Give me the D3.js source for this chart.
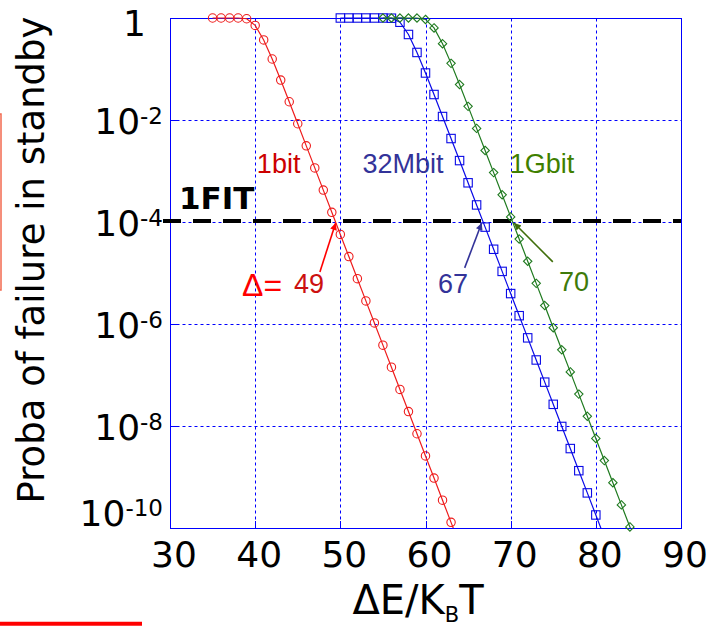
<!DOCTYPE html>
<html>
<head>
<meta charset="utf-8">
<script src="https://cdn.jsdelivr.net/npm/d3@7"></script>
<style>
  body { margin: 0; background: #fff; }
  svg { display: block; }
</style>
</head>
<body>
<div id="chart"></div>
<script>
// barrier height dE/kT for each curve
const delta1bit = [35,36,37,38,39,40,41,42,43,44,45,46,47,48,49,50,51,52,53,54,55,56,57,58,59,60,61,62,63,64];
const proba1bit = [1,1,1,1,0.967,0.716,0.371,0.157,6.07e-2,2.28e-2,8.44e-3,3.11e-3,1.15e-3,4.22e-4,1.55e-4,
  5.71e-5,2.10e-5,7.73e-6,2.84e-6,1.05e-6,3.85e-7,1.42e-7,5.21e-8,1.92e-8,7.05e-9,2.59e-9,9.54e-10,3.51e-10,1.29e-10,4.75e-11];

const delta32M = [50,51,52,53,54,55,56,57,58,59,60,61,62,63,64,65,66,67,68,69,70,71,72,73,74,75,76,77,78,79,80,81];
const proba32M = [1,1,1,1,1,1,0.991,0.826,0.475,0.211,8.35e-2,3.16e-2,1.17e-2,4.33e-3,1.60e-3,5.87e-4,2.16e-4,
  7.94e-5,2.92e-5,1.075e-5,3.95e-6,1.455e-6,5.35e-7,1.97e-7,7.24e-8,2.66e-8,9.80e-9,3.61e-9,1.33e-9,4.88e-10,1.80e-10,6.6e-11];

const delta1G = [55,56,57,58,59,60,61,62,63,64,65,66,67,68,69,70,71,72,73,74,75,76,77,78,79,80,81,82,83,84,85];
const proba1G = [1,1,1,1,0.9995,0.937,0.639,0.313,0.129,4.96e-2,1.85e-2,6.85e-3,2.53e-3,9.30e-4,3.42e-4,1.26e-4,
  4.63e-5,1.70e-5,6.26e-6,2.30e-6,8.47e-7,3.12e-7,1.15e-7,4.22e-8,1.55e-8,5.71e-9,2.10e-9,7.73e-10,2.84e-10,1.05e-10,3.86e-11];

const xTicks = [30,40,50,60,70,80,90];
const yTicks = [1,1e-2,1e-4,1e-6,1e-8,1e-10];
const yTickExp = ['', '-2', '-4', '-6', '-8', '-10'];

const fitLevel = 1.05e-4;
const crossings = [49.45, 66.6, 70.4];   // where each curve hits 1FIT
const crossLabels = ['49', '67', '70'];
const seriesNames = ['1bit', '32Mbit', '1Gbit'];

const width = 722, height = 628;
const marginLeft = 170, marginRight = 41, marginTop = 18, marginBottom = 100;

const x = d3.scaleLinear().domain([30, 90]).range([marginLeft, width - marginRight]);
const y = d3.scaleLog().domain([1, 1e-10]).range([marginTop, height - marginBottom]);
const snap = (v) => Math.round(v) + 0.5;

const svg = d3.select('#chart').append('svg')
  .attr('width', width)
  .attr('height', height)
  .attr('viewBox', [0, 0, width, height]);

const defs = svg.append('defs');
defs.append('clipPath').attr('id', 'plot-clip')
  .append('rect')
    .attr('x', x(30)).attr('y', 0)
    .attr('width', x(90) - x(30)).attr('height', y(1e-10));

function arrowMarker(id, color) {
  defs.append('marker')
    .attr('id', id)
    .attr('viewBox', '0 -5 10 10')
    .attr('refX', 10).attr('refY', 0)
    .attr('markerWidth', 9).attr('markerHeight', 7)
    .attr('markerUnits', 'userSpaceOnUse')
    .attr('orient', 'auto')
    .append('path')
      .attr('d', 'M0,-5L10,0L0,5Z')
      .attr('fill', color);
}
arrowMarker('arr-red', '#ff0000');
arrowMarker('arr-blue', '#333399');
arrowMarker('arr-green', '#3f6e0a');

// stray slide decorations
svg.append('rect')
  .attr('x', -10).attr('y', 114).attr('width', 11).attr('height', 176)
  .attr('fill', 'none').attr('stroke', '#f26a4f').attr('stroke-width', 1.5);
svg.append('line')
  .attr('x1', 0).attr('x2', 142).attr('y1', 623.7).attr('y2', 623.7)
  .attr('stroke', '#ff0000').attr('stroke-width', 4);

// grid
const grid = svg.append('g').attr('class', 'grid')
  .attr('stroke', '#0000ff').attr('stroke-width', 1).attr('stroke-dasharray', '3,3');
grid.selectAll('line.v')
  .data(xTicks)
  .join('line')
    .attr('class', 'v')
    .attr('x1', (d) => snap(x(d))).attr('x2', (d) => snap(x(d)))
    .attr('y1', snap(y(1))).attr('y2', snap(y(1e-10)));
grid.selectAll('line.h')
  .data(yTicks)
  .join('line')
    .attr('class', 'h')
    .attr('x1', snap(x(30))).attr('x2', snap(x(90)))
    .attr('y1', (d) => snap(y(d))).attr('y2', (d) => snap(y(d)));

// box
svg.append('rect')
  .attr('x', snap(x(30))).attr('y', snap(y(1)))
  .attr('width', snap(x(90)) - snap(x(30))).attr('height', snap(y(1e-10)) - snap(y(1)))
  .attr('fill', 'none').attr('stroke', '#0000ff').attr('stroke-width', 1);

// inward ticks
svg.append('g')
  .attr('transform', `translate(0, ${Math.round(y(1e-10))})`)
  .call(d3.axisBottom(x).tickValues(xTicks).tickSize(-7).tickFormat('').offset(0))
  .call((g) => g.select('.domain').remove())
  .call((g) => g.selectAll('.tick').attr('transform', (d) => `translate(${snap(x(d))},0)`))
  .call((g) => g.selectAll('line').attr('stroke', '#0000ff'));
svg.append('g')
  .attr('transform', `translate(${Math.round(x(30))}, 0)`)
  .call(d3.axisLeft(y).tickValues(yTicks).tickSize(-7).tickFormat('').offset(0))
  .call((g) => g.select('.domain').remove())
  .call((g) => g.selectAll('.tick').attr('transform', (d) => `translate(0,${snap(y(d))})`))
  .call((g) => g.selectAll('line').attr('stroke', '#0000ff'));

// tick labels
svg.append('g')
  .attr('font-family', 'DejaVu Sans, Verdana, sans-serif')
  .attr('font-size', 36)
  .attr('text-anchor', 'middle')
  .selectAll('text')
  .data(xTicks)
  .join('text')
    .attr('x', (d) => x(d) + 4)
    .attr('y', 567)
    .text((d) => d);

const yLabels = svg.append('g')
  .attr('font-family', 'DejaVu Sans, Verdana, sans-serif')
  .attr('text-anchor', 'end')
  .selectAll('text')
  .data(yTicks)
  .join('text')
    .attr('x', (d, i) => i == 0 ? 146 : 163)
    .attr('y', (d, i) => i == 0 ? y(d) + 18 : (i == yTicks.length - 1 ? y(d) - 2 : y(d) + 14))
    .attr('font-size', 36);
yLabels.each(function(d, i) {
  const t = d3.select(this);
  if (i == 0) { t.text('1'); return; }
  t.append('tspan').text('10');
  t.append('tspan').attr('font-size', 23).attr('dy', -10).text(yTickExp[i]);
});

// axis titles
svg.append('text')
  .attr('transform', 'translate(44, 260) rotate(-90)')
  .attr('text-anchor', 'middle')
  .attr('font-family', 'DejaVu Sans, Verdana, sans-serif')
  .attr('font-size', 37)
  .text('Proba of failure in standby');

const xTitle = svg.append('text')
  .attr('x', 418).attr('y', 614)
  .attr('text-anchor', 'middle')
  .attr('font-family', 'DejaVu Sans, Verdana, sans-serif')
  .attr('font-size', 40);
xTitle.append('tspan').text('\u0394E/K');
xTitle.append('tspan').attr('font-size', 21).attr('dy', 8).text('B');
xTitle.append('tspan').attr('dy', -8).text('T');

// 1FIT line
svg.append('line')
  .attr('x1', x(30) - 7).attr('x2', x(90))
  .attr('y1', y(fitLevel)).attr('y2', y(fitLevel))
  .attr('stroke', '#000').attr('stroke-width', 4)
  .attr('stroke-dasharray', '18,12');
svg.append('text')
  .attr('x', 179).attr('y', 209)
  .attr('font-family', 'DejaVu Sans, Verdana, sans-serif')
  .attr('font-weight', 'bold')
  .attr('font-size', 31)
  .text('1FIT');

// curves
const series = [
  {name: seriesNames[0], xs: delta1bit, ps: proba1bit, color: '#ee1c1c', shape: 'circle'},
  {name: seriesNames[1], xs: delta32M, ps: proba32M, color: '#0a0ae6', shape: 'square'},
  {name: seriesNames[2], xs: delta1G, ps: proba1G, color: '#1f7a1f', shape: 'diamond'}
];

const line = d3.line().x((d) => x(d[0])).y((d) => y(d[1]));

const curves = svg.append('g');
series.forEach((s) => {
  const pts = d3.zip(s.xs, s.ps);
  curves.append('path')
    .attr('clip-path', 'url(#plot-clip)')
    .attr('d', line(pts))
    .attr('fill', 'none')
    .attr('stroke', s.color)
    .attr('stroke-width', 1.2);

  const shown = pts.filter((d) => d[1] >= 1e-10);
  const g = curves.append('g')
    .attr('fill', 'none')
    .attr('stroke', s.color)
    .attr('stroke-width', 1.1);
  if (s.shape == 'circle') {
    g.selectAll('circle').data(shown).join('circle')
      .attr('cx', (d) => x(d[0])).attr('cy', (d) => y(d[1])).attr('r', 4.2);
  } else if (s.shape == 'square') {
    g.selectAll('rect').data(shown).join('rect')
      .attr('x', (d) => x(d[0]) - 4.2).attr('y', (d) => y(d[1]) - 4.2)
      .attr('width', 8.4).attr('height', 8.4);
  } else {
    g.selectAll('path').data(shown).join('path')
      .attr('transform', (d) => `translate(${x(d[0])},${y(d[1])})`)
      .attr('d', 'M0,-4.2L4.2,0L0,4.2L-4.2,0Z');
  }
});

// series labels
const labelFont = 'Liberation Sans, Arial, sans-serif';
const nameColors = ['#cc0000', '#333399', '#3f7f00'];
const nameX = [40.2, 52.6, 69.9];
svg.append('g')
  .attr('font-family', labelFont)
  .attr('font-size', 27)
  .selectAll('text')
  .data(seriesNames)
  .join('text')
    .attr('x', (d, i) => x(nameX[i]))
    .attr('y', 173)
    .attr('fill', (d, i) => nameColors[i])
    .text((d) => d);

// arrows to the 1FIT crossings
const arrowTails = [[47.6, 1.05e-5], [64.6, 1.26e-5], [74.95, 1.65e-5]];
const arrowIds = ['arr-red', 'arr-blue', 'arr-green'];
const arrowColors = ['#ff0000', '#333399', '#3f6e0a'];
svg.append('g')
  .selectAll('line')
  .data(crossings)
  .join('line')
    .attr('x1', (d, i) => x(arrowTails[i][0]))
    .attr('y1', (d, i) => y(arrowTails[i][1]))
    .attr('x2', (d) => x(d))
    .attr('y2', y(1e-4) + 1)
    .attr('stroke', (d, i) => arrowColors[i])
    .attr('stroke-width', 1.6)
    .attr('marker-end', (d, i) => `url(#${arrowIds[i]})`);

svg.append('text')
  .attr('x', 242).attr('y', 296)
  .attr('font-family', labelFont)
  .attr('font-size', 32)
  .attr('fill', '#ff0000')
  .text('\u0394=');
const valueX = [294, 438, 559];
const valueY = [293, 293, 291];
const valueColors = ['#cc1010', '#333399', '#3f7a0a'];
svg.append('g')
  .attr('font-family', labelFont)
  .attr('font-size', 27)
  .selectAll('text')
  .data(crossLabels)
  .join('text')
    .attr('x', (d, i) => valueX[i])
    .attr('y', (d, i) => valueY[i])
    .attr('fill', (d, i) => valueColors[i])
    .text((d) => d);
</script>
</body>
</html>
